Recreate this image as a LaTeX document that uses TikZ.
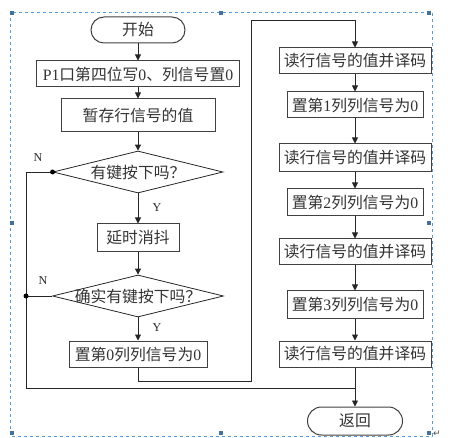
\documentclass[tikz,border=0pt]{standalone}
\usepackage{fontspec}
\setmainfont{Liberation Serif}
\newfontfamily\cjk{Noto Sans CJK SC}
\newfontfamily\symfont{DejaVu Sans}
\usetikzlibrary{shapes.geometric,arrows.meta}
\newcommand\fs{\fontsize{15.8}{16}\cjk}
\newcommand\lt[1]{{\rmfamily #1}}
\definecolor{frameblue}{HTML}{5B9BD5}
\definecolor{handleblue}{HTML}{41719C}
\tikzset{
  box/.style={draw=black!75, line width=1pt, minimum height=26pt, inner sep=0pt, font=\fs, text=black!80},
  term/.style={box, rounded corners=13pt},
  dia/.style={draw=black!85, line width=0.8pt, diamond, inner sep=0pt},
  dtext/.style={font=\fs, text=black!80, inner sep=0pt},
  conn/.style={draw=black!85, line width=0.9pt},
  arr/.style={conn, -{Triangle[length=6pt,width=6pt]}},
  lbl/.style={font=\fontsize{12}{12}\selectfont, text=black!85, inner sep=0pt},
  handle/.style={fill=handleblue, draw=none, minimum size=4pt, inner sep=0pt},
  dot/.style={circle, fill=black, minimum size=5pt, inner sep=0pt}
}
\begin{document}
\begin{tikzpicture}[x=1pt,y=1pt]
\useasboundingbox (0,0) rectangle (471,-438);
% frame
\draw[frameblue, dashed, line width=0.6pt] (10,-12) rectangle (432,-436);
\foreach \p/\q in {12/-13,221/-13,429/-13,12/-223,429/-223,12/-433,221/-433,429/-433}
  \node[handle] at (\p,\q) {};
\node[font=\fontsize{9}{9}\symfont, text=black!70, inner sep=0pt] (pm) at (437,-434) {↵};
% left column
\node[term, minimum width=94pt] (start) at (138,-30) {开始};
\node[box, minimum width=203pt] (b1) at (138,-74) {\lt{P1}口第四位写\lt{0}、列信号置\lt{0}};
\node[box, minimum width=154pt, minimum height=33pt] (b2) at (138,-115.5) {暂存行信号的值};
\node[dia, minimum width=170pt, minimum height=42pt] (d1) at (138,-172) {};
\node[dtext] (d1t) at (d1.center) {有键按下吗？};
\node[box, minimum width=82pt, minimum height=28pt] (b3) at (138,-238) {延时消抖};
\node[dia, minimum width=171pt, minimum height=42pt] (d2) at (138,-296) {};
\node[dtext] (d2t) at (d2.center) {确实有键按下吗？};
\node[box, minimum width=138pt] (b4) at (138,-354) {置第\lt{0}列列信号为\lt{0}};
% right column
\node[box, minimum width=152pt] (r1) at (355,-61) {读行信号的值并译码};
\node[box, minimum width=136pt] (r2) at (355,-105) {置第\lt{1}列列信号为\lt{0}};
\node[box, minimum width=152pt, minimum height=28pt] (r3) at (355,-158) {读行信号的值并译码};
\node[box, minimum width=136pt, minimum height=27pt] (r4) at (355,-202.5) {置第\lt{2}列列信号为\lt{0}};
\node[box, minimum width=152pt] (r5) at (355,-252) {读行信号的值并译码};
\node[box, minimum width=136pt, minimum height=27pt] (r6) at (355,-304.5) {置第\lt{3}列列信号为\lt{0}};
\node[box, minimum width=152pt] (r7) at (355,-354) {读行信号的值并译码};
\node[term, minimum width=95pt, minimum height=28pt, rounded corners=14pt] (ret) at (355,-421) {返回};
% labels
\node[lbl] (n1) at (38,-158) {N};
\node[lbl] (n2) at (43,-281) {N};
\node[lbl] (y1) at (157,-208) {Y};
\node[lbl] (y2) at (157,-328) {Y};
% coordinates
\coordinate (c1) at (26,-172);
\coordinate (c2) at (26,-296);
\coordinate (c3) at (26,-388);
\coordinate (c4) at (355,-388);
\coordinate (e1) at (138,-381);
\coordinate (e2) at (251,-381);
\coordinate (e3) at (251,-20);
\coordinate (e4) at (355,-20);
% connectors
\draw[arr] (start) -- (b1);
\draw[arr] (b1) -- (b2);
\draw[arr] (b2) -- (d1.north);
\draw[arr] (d1.south) -- (b3);
\draw[arr] (b3) -- (d2.north);
\draw[arr] (d2.south) -- (b4);
\draw[conn] (d1.west) -- (c1) -- (c3) -- (c4);
\draw[conn] (d2.west) -- (c2);
\node[dot] (dot1) at (d1.west) {};
\node[dot] (dot2) at (c2) {};
\draw[conn] (b4.south) -- (e1) -- (e2) -- (e3) -- (e4);
\draw[arr] (e4) -- (r1.north);
\draw[arr] (r1) -- (r2);
\draw[arr] (r2) -- (r3);
\draw[arr] (r3) -- (r4);
\draw[arr] (r4) -- (r5);
\draw[arr] (r5) -- (r6);
\draw[arr] (r6) -- (r7);
\draw[arr] (r7) -- (ret);
\end{tikzpicture}
\end{document}
